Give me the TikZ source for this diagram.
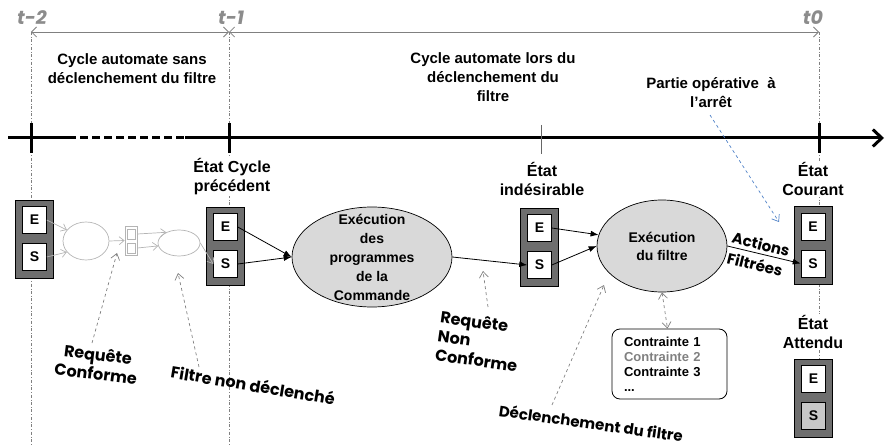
\documentclass[tikz,border=0pt]{standalone}
\usepackage{fontspec}
\setmainfont{Liberation Sans}
\newfontfamily\gothic{Poppins}
\usetikzlibrary{arrows.meta,shapes.geometric}
\definecolor{boxgray}{HTML}{6E6E6E}
\definecolor{faint}{HTML}{B4B4B4}
\definecolor{tgray}{HTML}{8C8C8C}
\definecolor{ellfill}{HTML}{D9D9D9}
\definecolor{bluedash}{HTML}{4F81C7}
\definecolor{sfill}{HTML}{C8C8C8}

% state register: outer frame with an E cell and an S cell
\newcommand\etatbox[4]{%
  \node[outerbox] (#1) at (#2,#3) {};
  \node[cell] (#1e) at (#2,#3-19) {E};
  \node[cell, fill=#4] (#1s) at (#2,#3+18) {S};
}

\begin{document}
\begin{tikzpicture}[x=1pt,y=-1pt,
  lbl/.style={font=\bfseries\fontsize{16}{19}\selectfont, align=center, inner sep=1pt, fill=white},
  ttl/.style={font=\bfseries\fontsize{15}{19}\selectfont, align=center, inner sep=1pt},
  tlab/.style={font=\gothic\bfseries\itshape\fontsize{19}{20}\selectfont, text=tgray, inner sep=0pt},
  goth/.style={font=\gothic\bfseries\fontsize{16}{19}\selectfont, inner sep=0pt},
  outerbox/.style={draw=black, fill=boxgray, minimum width=38, minimum height=78, inner sep=0pt, line width=0.6pt},
  cell/.style={draw=black, fill=white, minimum width=24, minimum height=27, inner sep=0pt, line width=0.5pt, font=\bfseries\fontsize{14}{14}\selectfont},
  guide/.style={draw=gray, dash dot, line width=0.6pt},
  span/.style={draw=gray, line width=0.8pt, {Straight Barb[length=5,width=10]}-{Straight Barb[length=5,width=10]}},
  axis/.style={line width=3pt},
  flow/.style={draw=black, line width=0.8pt, -{Latex[length=8,width=6]}},
  ghost/.style={draw=faint, line width=0.7pt},
  ghostarrow/.style={ghost, -{Straight Barb[length=5,width=8]}},
  pointer/.style={draw=gray, dashed, line width=0.7pt, -{Straight Barb[length=6,width=9]}},
  bubble/.style={ellipse, draw=black, fill=ellfill, line width=0.7pt, inner sep=0pt},
  ghostbubble/.style={ellipse, draw=faint, line width=0.7pt, inner sep=0pt}
]
\useasboundingbox (0,0) rectangle (888,446);

% instants
\node[tlab] (tm2) at (32,18) {t-2};
\node[tlab] (tm1) at (231,18) {t-1};
\node[tlab] (tz)  at (813,18) {t0};

\coordinate (g2top) at (31,32);   \coordinate (g2bot) at (31,446);
\coordinate (g1top) at (229,32);  \coordinate (g1bot) at (229,446);
\coordinate (g0top) at (819,32);  \coordinate (g0bot) at (819,359);

% dash-dot guides
\draw[guide] (g2top) -- (g2bot);
\draw[guide] (g1top) -- (g1bot);
\draw[guide] (g0top) -- (g0bot);

% cycle spans
\draw[span] (g2top) -- (g1top);
\draw[span] (g1top) -- (g0top);

% time axis
\coordinate (ax0) at (8,138);
\coordinate (ax1) at (68,138);
\coordinate (ax2) at (185,138);
\coordinate (ax3) at (884,138);
\draw[axis] (ax0) -- (ax1);
\draw[axis, dash pattern=on 8pt off 4pt] (ax1) -- (ax2);
\draw[axis, -{Straight Barb[length=9,width=17,line width=3pt]}] (ax2) -- (ax3);
\draw[line width=3pt] (31,123) -- (31,153);
\draw[line width=3pt] (229,123) -- (229,153);
\draw[line width=3pt] (819,123) -- (819,153);
\draw[line width=1pt, draw=black!60] (541,125) -- (541,154);

% titles
\node[ttl] (c1) at (132,69) {Cycle automate sans\\déclenchement du filtre};
\node[ttl] (c2) at (493,77) {Cycle automate lors du\\déclenchement du\\filtre};
\node[ttl] (pop) at (711,93) {Partie opérative\ \ à\\l’arrêt};

% state labels
\node[lbl] (l2) at (232,177) {État Cycle\\précédent};
\node[lbl] (l3) at (542,179) {État\\indésirable};
\node[lbl] (l4) at (813,179) {État\\Courant};
\node[lbl] (l5) at (813,332) {État\\Attendu};

% state registers
\etatbox{b1}{34.5}{239}{white}
\etatbox{b2}{225.5}{246}{white}
\etatbox{b3}{539.5}{247}{white}
\etatbox{b4}{813}{245.5}{white}
\etatbox{b5}{813.5}{398}{sfill}

% earlier cycle, drawn faint
\node[ghostbubble, minimum width=46, minimum height=38] (ga) at (86,241) {};
\node[ghostbubble, minimum width=42, minimum height=26] (gb) at (179,243) {};
\node[draw=faint, line width=0.7pt, minimum width=12, minimum height=29, inner sep=0pt] (mux) at (131,240.5) {};
\node[draw=faint, line width=0.6pt, minimum width=8, minimum height=10, inner sep=0pt] (m1) at (131,234) {};
\node[draw=faint, line width=0.6pt, minimum width=8, minimum height=10, inner sep=0pt] (m2) at (131,248) {};
\draw[ghostarrow] (b1e.east) -- (ga.150);
\draw[ghostarrow] (b1s.east) -- (ga.210);
\draw[ghostarrow] (ga.east) -- (mux.west);
\draw[ghostarrow] (mux.east |- m1) -- (gb.140);
\draw[ghostarrow] (mux.east |- m2) -- (gb.188);
\draw[ghostarrow] (gb.east) -- (b2s.west);

% controller and filter
\node[bubble, minimum width=160, minimum height=100] (cmd) at (372,257) {};
\node[font=\bfseries\fontsize{14}{19}\selectfont, align=center] (cmdt) at (cmd) {Exécution\\des\\programmes\\de la\\Commande};
\node[bubble, minimum width=130, minimum height=92] (flt) at (662,246) {};
\node[font=\bfseries\fontsize{14}{18}\selectfont, align=center] (fltt) at (flt) {Exécution\\du filtre};

\draw[flow] (b2e.east) -- (cmd.west);
\draw[flow] (b2s.east) -- (cmd.west);
\draw[flow] (cmd.east) -- (b3s.west);
\draw[flow] (b3e.east) -- (flt.170);
\draw[flow] (b3s.east) -- (flt.west);
\draw[flow] (flt.east) -- (b4s.west);
\node[goth, font=\gothic\bfseries\fontsize{15}{15}\selectfont, rotate=-14] (act) at (761,244) {Actions};
\node[goth, font=\gothic\bfseries\fontsize{15}{15}\selectfont, rotate=-14] (filt) at (755,264) {Filtrées};

% constraint list
\node[draw=black, line width=0.8pt, rounded corners=8pt, minimum width=115, minimum height=70,
      inner xsep=12pt, text width=91pt, align=left,
      font=\bfseries\fontsize{13}{15}\selectfont] (cons) at (669.5,364)
  {Contrainte 1\\\textcolor{gray}{Contrainte 2}\\Contrainte 3\\...};
\draw[pointer, {Straight Barb[length=6,width=9]}-{Straight Barb[length=6,width=9]}] (flt.south) -- ([xshift=-2pt]cons.north);

% annotations
\node[goth, align=center, rotate=-7] (rc) at (97,364) {Requête\\Conforme};
\node[goth, rotate=-9.5] (fnd) at (253,385) {Filtre non déclenché};
\node[goth, align=left, rotate=-8] (rnc) at (479,341) {Requête\\Non\\Conforme};
\node[goth, font=\gothic\bfseries\fontsize{15}{19}\selectfont, rotate=-8] (ddf) at (591,423) {Déclenchement du filtre};

\coordinate (rcA) at (92,343);   \coordinate (rcB) at (117,253);
\coordinate (fndA) at (199,367); \coordinate (fndB) at (178,273);
\coordinate (rncA) at (488,307); \coordinate (rncB) at (483,271);
\coordinate (ddfA) at (552,405); \coordinate (ddfB) at (604,285);
\coordinate (popA) at (710,115); \coordinate (popB) at (779,222);
\draw[pointer] (rcA) -- (rcB);
\draw[pointer] (fndA) -- (fndB);
\draw[pointer] (rncA) -- (rncB);
\draw[pointer] (ddfA) -- (ddfB);
\draw[pointer, draw=bluedash] (popA) -- (popB);
\end{tikzpicture}
\end{document}
